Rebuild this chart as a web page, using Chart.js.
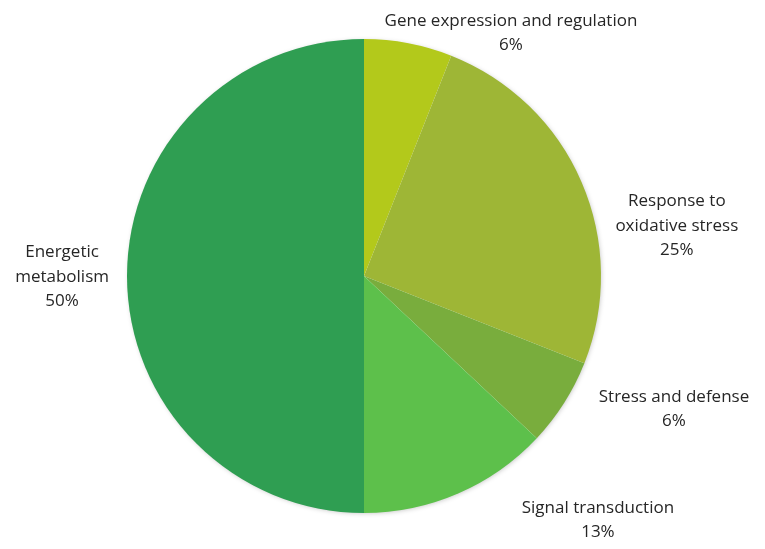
<!DOCTYPE html>
<html>
<head>
<meta charset="utf-8">
<script src="https://cdn.jsdelivr.net/npm/chart.js@4"></script>
<style>
    html, body { margin: 0; padding: 0; background: #ffffff; }
    #wrap { width: 765px; height: 549px; }
</style>
</head>
<body>
<div id="wrap"><canvas id="pie"></canvas></div>
<script>
// ==========================================================
// DATA
// ==========================================================

const categories = [
    ["Gene expression and regulation"],
    ["Response to", "oxidative stress"],
    ["Stress and defense"],
    ["Signal transduction"],
    ["Energetic", "metabolism"]
];

const percentages = [6, 25, 6, 13, 50];

const sliceColors = [
    "#b3c91b",
    "#9eb636",
    "#79ad3d",
    "#5dc04b",
    "#2f9e52"
];

// ==========================================================
// LABEL PLACEMENT (in units of the pie radius, from centre)
// ==========================================================

const labelAnchors = [
    [0.62, -1.025],
    [1.32, -0.211],
    [1.308, 0.561],
    [0.987, 1.03],
    [-1.274, 0.004]
];

const pieShadow = {
    id: "pieShadow",
    beforeDatasetsDraw(chart) {
        const arc = chart.getDatasetMeta(0).data[0];
        if (!arc) return;
        const ctx = chart.ctx;
        ctx.save();
        ctx.shadowColor = "rgba(0,0,0,0.25)";
        ctx.shadowBlur = 5;
        ctx.shadowOffsetX = 1;
        ctx.shadowOffsetY = 1;
        ctx.fillStyle = "#ffffff";
        ctx.beginPath();
        ctx.arc(arc.x, arc.y, arc.outerRadius - 1, 0, Math.PI * 2);
        ctx.fill();
        ctx.restore();
    }
};

const outsideLabels = {
    id: "outsideLabels",
    afterDatasetsDraw(chart) {
        const meta = chart.getDatasetMeta(0);
        const ctx = chart.ctx;
        const lineH = 24.5;
        ctx.save();
        ctx.font = "17px 'Open Sans'";
        ctx.fillStyle = "#262626";
        ctx.textAlign = "center";
        ctx.textBaseline = "middle";
        meta.data.forEach((arc, i) => {
            const r = arc.outerRadius;
            const cx = arc.x + labelAnchors[i][0] * r;
            const cy = arc.y + labelAnchors[i][1] * r;
            const lines = chart.data.labels[i].concat(
                [chart.data.datasets[0].data[i] + "%"]
            );
            const top = cy - (lines.length - 1) * lineH / 2;
            lines.forEach((t, k) => {
                ctx.fillText(t, cx, top + k * lineH);
            });
        });
        ctx.restore();
    }
};

// ==========================================================
// CHART
// ==========================================================

new Chart(document.getElementById("pie"), {
    type: "pie",
    data: {
        labels: categories,
        datasets: [{
            data: percentages,
            backgroundColor: sliceColors,
            borderWidth: 0
        }]
    },
    options: {
        responsive: true,
        maintainAspectRatio: false,
        animation: false,
        layout: {
            padding: { left: 127, right: 164, top: 39, bottom: 36 }
        },
        plugins: {
            legend: { display: false },
            tooltip: { enabled: false }
        }
    },
    plugins: [pieShadow, outsideLabels]
});
</script>
</body>
</html>
